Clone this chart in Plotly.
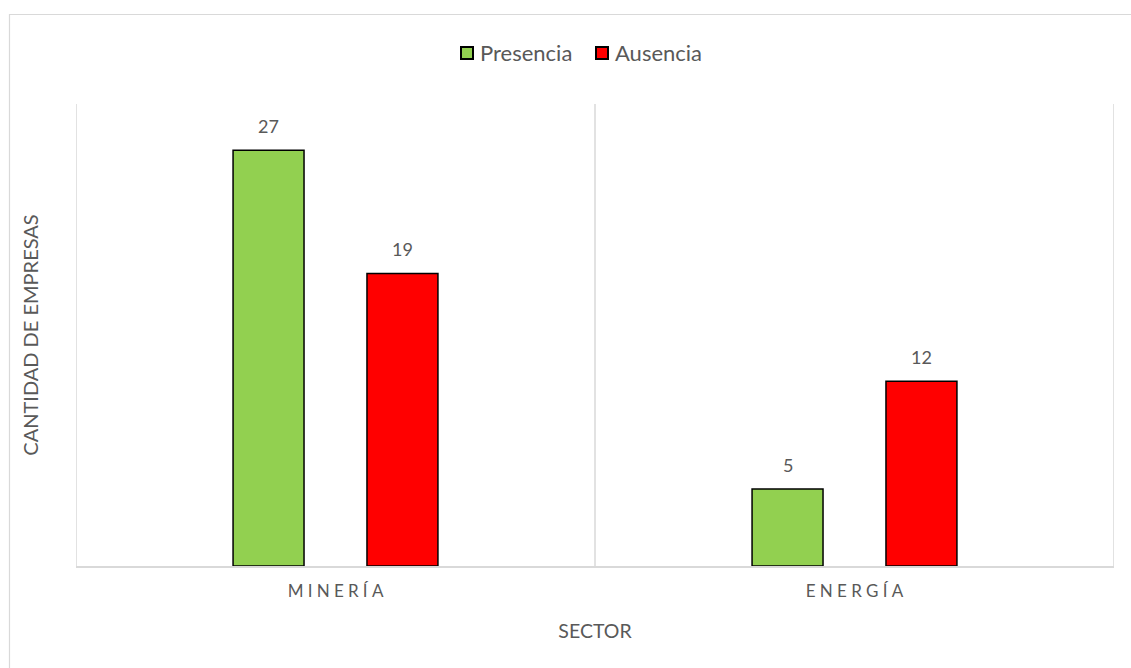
import plotly.graph_objects as go

# Data
sectors = ["MINERÍA", "ENERGÍA"]
presencia = [27, 5]
ausencia = [19, 12]
series_names = ["Presencia", "Ausencia"]
series_colors = ["#92d050", "#ff0000"]

W, H = 1131, 668
L, R, T, B = 76, 17, 104, 102

FONT = "Lato, 'Open Sans', sans-serif"
GRAY_TXT = "#595959"
GRID = "#d9d9d9"

def spaced(s):
    return "\u2005".join(list(s))

# paper-coordinate helpers from pixel positions
px_x = lambda p: (p - L) / (W - L - R)
px_y = lambda p: 1 - (p - T) / (H - T - B)

fig = go.Figure()
for name, vals, col in zip(series_names, [presencia, ausencia], series_colors):
    fig.add_trace(go.Bar(
        x=sectors, y=vals, name=name, showlegend=False,
        marker=dict(color=col, line=dict(color="black", width=1.5)),
        offsetgroup=name,
    ))

fig.update_layout(barmode="group", bargap=0.484, bargroupgap=0.47)

# value labels above each bar
offsets = [-0.129, 0.129]
for off, vals in zip(offsets, [presencia, ausencia]):
    for i, v in enumerate(vals):
        fig.add_annotation(x=i + off, y=v, xref="x", yref="y", text=str(v),
                           showarrow=False, yshift=24, yanchor="middle",
                           font=dict(size=18, color=GRAY_TXT, family=FONT))

# category separators
for xv in [-0.5, 0.5, 1.5]:
    fig.add_shape(type="line", xref="x", yref="y", x0=xv, x1=xv, y0=0, y1=30,
                  line=dict(color=GRID, width=1.5), layer="below")

# outer chart frame
fig.add_shape(type="rect", xref="paper", yref="paper",
              x0=px_x(9.5), x1=px_x(1140), y0=px_y(14.5), y1=px_y(680),
              line=dict(color=GRID, width=1.2), fillcolor="rgba(0,0,0,0)")

# legend: swatch + label per series
legend_items = [(461, 480), (596, 615)]
for (sx, tx), name, col in zip(legend_items, series_names, series_colors):
    fig.add_shape(type="rect", xref="paper", yref="paper",
                  x0=px_x(sx), x1=px_x(sx + 12), y0=px_y(59), y1=px_y(47),
                  fillcolor=col, line=dict(color="black", width=2))
    fig.add_annotation(x=px_x(tx), y=px_y(52.5), xref="paper", yref="paper",
                       text=name, showarrow=False, xanchor="left", yanchor="middle",
                       xshift=-2,
                       font=dict(size=22, color=GRAY_TXT, family=FONT))

fig.update_layout(
    width=W, height=H,
    margin=dict(l=L, r=R, t=T, b=B),
    paper_bgcolor="white", plot_bgcolor="white",
    font=dict(family=FONT, color=GRAY_TXT),
    showlegend=False,
    xaxis=dict(
        range=[-0.5, 1.5], tickmode="array", tickvals=sectors,
        ticktext=[spaced(s) for s in sectors],
        tickfont=dict(size=17, color=GRAY_TXT, family=FONT),
        showline=True, linecolor=GRID, linewidth=1.5, ticks="", showgrid=False,
        title=dict(text="SECTOR", font=dict(size=19.5, color=GRAY_TXT, family=FONT), standoff=24),
        ticklabelstandoff=9,
    ),
    yaxis=dict(
        range=[0, 30], showticklabels=False, showgrid=False, zeroline=False, ticks="",
        title=dict(text="CANTIDAD DE EMPRESAS", font=dict(size=20, color=GRAY_TXT, family=FONT), standoff=31),
    ),
)

fig.write_html("out.html")
